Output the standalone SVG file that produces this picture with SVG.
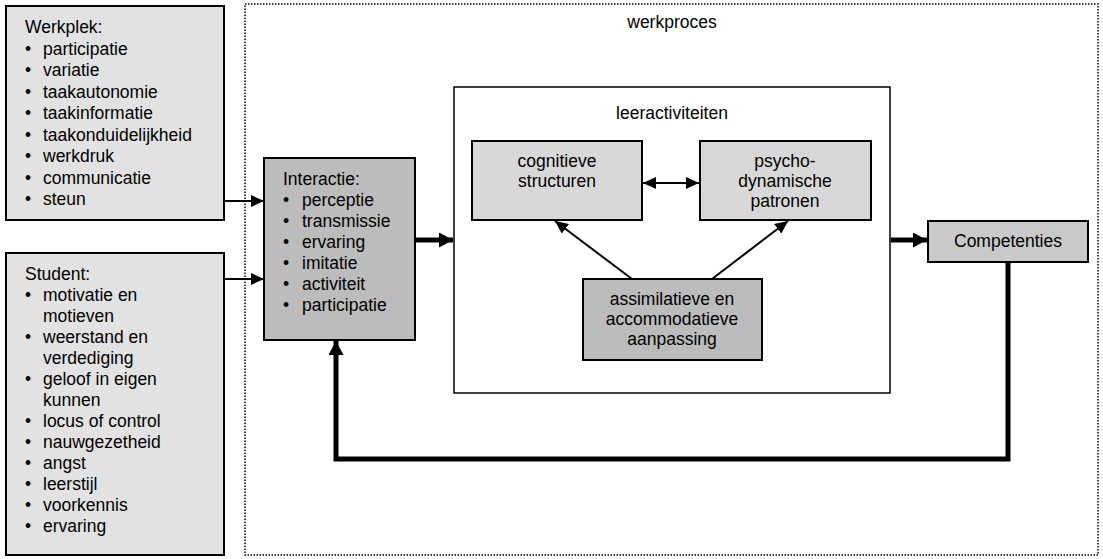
<svg xmlns="http://www.w3.org/2000/svg" width="1103" height="559" viewBox="0 0 1103 559">
<style>
text{font-family:"Liberation Sans",Arial,sans-serif;font-size:17.5px;fill:#000}
.c{text-anchor:middle}
.box{stroke:#000;stroke-width:2}
.light{fill:#e2e2e2}
.mid{fill:#d8d8d8}
.dark{fill:#bcbcbc}
.comp{fill:#c9c9c9}
.thin{stroke:#000;stroke-width:2;fill:none}
.thick{stroke:#000;stroke-width:5;fill:none}
</style>
<defs>
<marker id="ah" markerUnits="userSpaceOnUse" markerWidth="13" markerHeight="12" refX="13" refY="6" orient="auto-start-reverse"><path d="M0,0 L13,6 L0,12 z" fill="#000"/></marker>
<marker id="ahb" markerUnits="userSpaceOnUse" markerWidth="15" markerHeight="15" refX="14" refY="7.5" orient="auto"><path d="M0,0 L14,7.5 L0,15 z" fill="#000"/></marker>
</defs>

<g id="werkproces">
<rect x="245" y="4" width="853" height="551" fill="#fff" stroke="#000" stroke-width="1.5" stroke-dasharray="1.5 1.5"/>
<text class="c" x="672" y="28">werkproces</text>
</g>

<g id="werkplek">
<rect class="box light" x="6" y="6" width="218" height="214"/>
<text x="25" y="33">Werkplek:</text>
<g>
<text x="25" y="54.5">•</text><text x="43" y="54.5">participatie</text>
<text x="25" y="76">•</text><text x="43" y="76">variatie</text>
<text x="25" y="97.5">•</text><text x="43" y="97.5">taakautonomie</text>
<text x="25" y="119">•</text><text x="43" y="119">taakinformatie</text>
<text x="25" y="140.5">•</text><text x="43" y="140.5">taakonduidelijkheid</text>
<text x="25" y="162">•</text><text x="43" y="162">werkdruk</text>
<text x="25" y="183.5">•</text><text x="43" y="183.5">communicatie</text>
<text x="25" y="205">•</text><text x="43" y="205">steun</text>
</g>
</g>

<g id="student">
<rect class="box light" x="6" y="253" width="218" height="302"/>
<text x="25" y="280">Student:</text>
<text x="25" y="301">•</text><text x="43" y="301">motivatie en</text>
<text x="43" y="322">motieven</text>
<text x="25" y="343">•</text><text x="43" y="343">weerstand en</text>
<text x="43" y="364">verdediging</text>
<text x="25" y="385">•</text><text x="43" y="385">geloof in eigen</text>
<text x="43" y="406">kunnen</text>
<text x="25" y="427">•</text><text x="43" y="427">locus of control</text>
<text x="25" y="448">•</text><text x="43" y="448">nauwgezetheid</text>
<text x="25" y="469">•</text><text x="43" y="469">angst</text>
<text x="25" y="490">•</text><text x="43" y="490">leerstijl</text>
<text x="25" y="511">•</text><text x="43" y="511">voorkennis</text>
<text x="25" y="532">•</text><text x="43" y="532">ervaring</text>
</g>

<g id="interactie">
<rect class="box dark" x="264" y="158" width="151" height="182"/>
<text x="283" y="185">Interactie:</text>
<text x="283" y="206">•</text><text x="302" y="206">perceptie</text>
<text x="283" y="227">•</text><text x="302" y="227">transmissie</text>
<text x="283" y="248">•</text><text x="302" y="248">ervaring</text>
<text x="283" y="269">•</text><text x="302" y="269">imitatie</text>
<text x="283" y="290">•</text><text x="302" y="290">activiteit</text>
<text x="283" y="311">•</text><text x="302" y="311">participatie</text>
</g>

<g id="leeractiviteiten">
<rect x="454" y="87" width="436" height="306" fill="#fff" stroke="#000" stroke-width="1.5"/>
<text class="c" x="672" y="119">leeractiviteiten</text>
</g>

<g id="cognitieve">
<rect class="box mid" x="472" y="141" width="170" height="79"/>
<text class="c" x="557" y="167">cognitieve</text>
<text class="c" x="557" y="187">structuren</text>
</g>

<g id="psycho">
<rect class="box mid" x="700" y="141" width="171" height="79"/>
<text class="c" x="785" y="167">psycho-</text>
<text class="c" x="785" y="187">dynamische</text>
<text class="c" x="785" y="207">patronen</text>
</g>

<g id="aanpassing">
<rect class="box dark" x="583" y="279" width="179" height="81"/>
<text class="c" x="672" y="305">assimilatieve en</text>
<text class="c" x="672" y="325">accommodatieve</text>
<text class="c" x="672" y="345">aanpassing</text>
</g>

<g id="competenties">
<rect class="box comp" x="928" y="221" width="160" height="41"/>
<text class="c" x="1008" y="247">Competenties</text>
</g>

<g id="connectors">
<line class="thin" x1="225" y1="201" x2="264" y2="201" marker-end="url(#ah)"/>
<line class="thin" x1="225" y1="279" x2="264" y2="279" marker-end="url(#ah)"/>
<line class="thick" x1="416" y1="240" x2="453" y2="240" marker-end="url(#ahb)"/>
<line class="thick" x1="891" y1="240" x2="927" y2="240" marker-end="url(#ahb)"/>
<line class="thin" x1="643" y1="183" x2="699" y2="183" marker-start="url(#ah)" marker-end="url(#ah)"/>
<line class="thin" x1="632" y1="279" x2="555" y2="221" marker-end="url(#ah)"/>
<line class="thin" x1="712" y1="279" x2="788" y2="221" marker-end="url(#ah)"/>
<polyline class="thick" points="1008,263 1008,459 336,459 336,341" stroke-linejoin="miter" marker-end="url(#ahb)"/>
</g>
</svg>
